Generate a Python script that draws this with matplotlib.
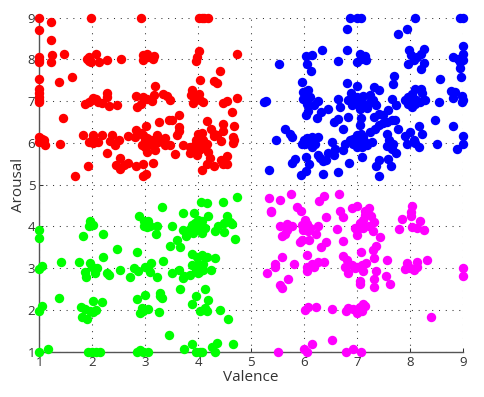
import matplotlib
matplotlib.use("Agg")
import matplotlib.pyplot as plt

# valence / arousal ratings per quadrant
red_x = [1.0, 1.22, 1.0, 1.22, 1.23, 1.21, 1.47, 1, 1, 1, 1, 1.36, 1.62, 1, 1, 1, 1, 1, 1.45, 1, 1.04, 1, 1.08, 1.11, 1.39, 1.67,
         1.98, 2.06, 1.94, 1.89, 1.93, 1.97, 2.12, 2.28, 2.54, 1.86, 1.94, 1.99, 2.02, 2.07, 2.11, 2.18, 2.28, 2.28, 2.31, 2.47,
         1.82, 2.02, 1.93, 2.02, 2.1, 2.18, 2.01, 2.37, 2.33, 2.43, 2.51, 2.27, 1.91, 2.52, 2.45, 2.52, 2.6, 2.68,
         2.82, 2.96, 3.15, 2.96, 3.01, 2.92, 2.95, 3.04, 2.96, 3.06, 3.15, 3.17,
         2.82, 2.85, 2.91, 2.96, 3.03, 3.12, 3.17, 3.19, 3.34, 3.41, 3.47, 3.44, 3.51, 3.63, 3.26, 3.01, 3.63, 3.64, 3.59,
         2.82, 2.68, 2.81, 2.91, 2.96, 3.03, 3.06, 2.93, 3.15, 3.22, 3.24, 3.37, 3.37, 3.47, 3.56, 3.03, 3.19, 3.09,
         3.71, 3.85, 3.94, 3.85, 3.97, 4.04, 3.97, 4.07, 4.16, 4.0, 4.07, 4.17, 4.24, 4.29, 4.35, 4.29, 4.19, 4.22, 4.16, 4.29, 4.07,
         4.46, 4.46, 4.44, 4.68, 4.66, 4.68, 4.65, 4.63, 4.41, 4.44, 4.46, 4.54, 4.55,
         4.02, 4.07, 4.11, 4.19, 4.73, 4.02, 3.98, 3.95, 4.04, 4.29, 4.36, 3.88, 3.86, 4.02, 3.91, 4.04, 4.1, 3.97, 4.46, 4.55, 4.74,
         3.0, 3.1, 3.0, 4.0, 4.1, 3.93, 4.02, 4.12, 3.95]
red_y = [9, 8.9, 8.7, 8.46, 8.1, 7.93, 8.12, 8.06, 7.98, 7.93, 7.53, 7.45, 7.58, 7.3, 7.2, 7.09, 7.04, 6.98, 6.6, 6.15, 6.1, 6.02, 6.06, 5.94, 5.97, 5.21,
         9, 8.14, 8.05, 8.0, 7.97, 7.95, 7.94, 7.99, 8.0, 6.94, 6.98, 7.04, 7.08, 7.05, 6.98, 6.96, 7.2, 7.09, 6.88, 6.9,
         6.2, 6.2, 6.03, 6.0, 6.02, 6.19, 6.13, 6.18, 6.04, 5.94, 6.08, 5.77, 5.45, 5.65, 5.46, 5.38, 5.48, 5.53,
         5.44, 5.5, 5.53, 5.21, 5.26, 9, 8.1, 8.14, 7.98, 8.06, 8.0, 8.08,
         7.13, 6.86, 6.93, 7.1, 7.06, 7.01, 7.14, 7.37, 7.18, 7.12, 7.02, 6.54, 6.54, 6.66, 6.49, 6.4, 6.38, 6.29, 6.2,
         6.3, 6.17, 6.14, 6.25, 6.18, 6.13, 6.02, 5.96, 6.02, 6.18, 6.02, 6.12, 5.94, 5.96, 5.74, 5.78, 5.82, 5.98,
         5.94, 5.9, 5.94, 5.76, 5.72, 5.86, 6.02, 5.98, 5.98, 6.22, 6.25, 6.53, 6.33, 6.22, 6.18, 6.16, 5.78, 5.65, 5.49, 5.45, 5.36,
         6.45, 6.28, 6.04, 6.41, 6.14, 6.06, 6.0, 6.73, 7.72, 5.58, 5.5, 5.68, 5.5,
         9, 9, 9, 9, 8.12, 8.21, 8.06, 7.96, 7.5, 7.49, 7.44, 7.26, 7.14, 7.17, 6.96, 7.02, 6.98, 7.1, 6.96, 7.01, 7.08,
         6.06, 6.08, 5.9, 6.1, 6.06, 5.82, 5.84, 5.9, 6.08]

blue_x = [6.87, 7.01, 7.08, 8.09, 8.94, 9, 6.81, 7.94, 7.78, 9.0, 6.82, 6.34, 6.04, 6.15, 6.05, 6.13, 5.52, 6.65,
          7.05, 7.15, 7.17, 7.0, 7.07, 7.98, 8.02, 8.07, 7.97, 8.14, 8.26, 8.22, 8.26, 8.21,
          8.82, 8.92, 9, 9.0, 8.95, 8.94, 8.96, 7.71, 7.69, 8.57, 5.96, 6.81, 7.01, 5.25, 5.28,
          6.08, 5.99, 6.02, 5.99, 6.05, 6.11, 6.27, 6.19, 6.08, 6.04, 6.25, 6.33, 6.46,
          6.65, 6.68, 6.84, 6.88, 6.96, 6.9, 7.01, 7.06, 7.12, 7.05, 7.2, 7.25, 7.33, 7.41, 7.31, 7.36, 7.25,
          7.66, 7.73, 7.59, 7.5, 7.33, 7.41, 6.64, 6.56, 6.83, 6.73, 7.07, 7.06,
          5.64, 5.74, 5.78, 5.48, 5.96, 6.05, 6.15, 6.27, 6.02, 6.15, 6.21, 6.52, 6.59, 6.46, 6.57, 6.74,
          6.03, 5.83, 5.77, 6.1, 6.03, 5.94, 5.33, 6.26, 6.3, 6.35, 6.41, 6.35, 6.65, 6.85, 7.1,
          6.78, 6.87, 6.93, 7, 7.07, 7.12, 7.15, 7.06, 7, 6.93, 7.19, 7.28, 7.09, 7,
          7.25, 7.34, 7.42, 7.5, 7.56, 7.67, 7.72, 7.77, 7.56, 7.61, 7.69, 7.56, 7.66, 7.73, 7.59, 7.41, 7.36, 7.64, 7.41,
          7.91, 8, 7.94, 8.07, 8.09, 8.17, 8.24, 8.18, 8.48, 8.51, 8.82, 8.9, 9, 9,
          7.91, 7.97, 8.04, 8.1, 8.22, 8.24, 8.29, 8.19, 8.1, 8.04, 7.97, 8.07, 8.56, 8.77, 8.85, 8.82, 8.98, 9, 8.98,
          6.95, 7.0, 7.06, 7.1, 6.95, 7.04, 7.0, 7.1, 8.0, 8.12, 8.06, 6.05, 6.1, 6.0]
blue_y = [9, 9, 9, 9, 9, 9, 8.72, 8.74, 8.62, 8.32, 8.22, 8.22, 8.08, 8.1, 7.9, 7.72, 7.9, 7.97,
          8.14, 8.08, 7.98, 7.93, 8.02, 8.22, 8.1, 7.98, 7.9, 8.06, 8.26, 8.14, 7.92, 7.77,
          8.06, 8.02, 8.14, 7.98, 7.94, 7.8, 7.58, 7.6, 7.42, 7.54, 7.46, 7.44, 7.37, 6.98, 7.0,
          7.28, 7.22, 7.1, 7.06, 6.94, 7.1, 7.0, 6.92, 6.76, 6.66, 6.6, 6.73, 6.81,
          7.06, 6.86, 7.02, 7.2, 7.02, 6.9, 7.1, 7.02, 7.12, 6.82, 6.84, 7.14, 7.33, 7.26, 7.02, 6.92, 6.98,
          7.05, 6.9, 6.8, 6.68, 6.62, 6.7, 6.58, 6.49, 6.62, 6.34, 6.6, 6.42,
          6.34, 6.21, 6.14, 6.06, 5.98, 6.13, 6.14, 6.14, 5.98, 5.9, 5.98, 6.02, 5.85, 5.77, 5.7, 5.82,
          5.66, 5.62, 5.52, 5.5, 5.34, 5.23, 5.36, 5.7, 5.65, 5.57, 5.6, 5.26, 5.3, 5.53, 5.66,
          5.97, 6.06, 6.1, 6.18, 6.22, 6.14, 6.02, 5.98, 6.02, 5.97, 5.94, 6.02, 5.9, 5.9,
          6.26, 6.34, 6.42, 6.48, 6.5, 6.54, 6.56, 6.34, 6.21, 6.06, 5.98, 5.92, 5.86, 5.76, 5.62, 5.58, 5.45, 5.45, 5.2,
          6.16, 6.26, 5.98, 6.06, 6.0, 5.9, 6.21, 6.41, 6.54, 5.97, 6.4, 5.85, 6.16, 5.98,
          7.04, 7.1, 7.18, 7.3, 7.3, 7.2, 7.04, 6.98, 6.94, 6.86, 6.94, 7.06, 6.98, 7.24, 7.21, 7.08, 7.13, 7.02, 6.98,
          7.1, 6.96, 7.04, 6.95, 6.05, 6.1, 6.12, 6.05, 7.0, 7.02, 6.98, 6.05, 6.02, 6.08]

green_x = [1, 1.16, 1, 1, 1.04, 1, 1.04, 1, 1.37, 1.41, 1.75, 1.96, 1.93, 2.01, 1.83, 2.2,
           2.2, 2.47, 1.96, 1.86, 1.88, 2.08, 2.04, 1.99, 2.28, 2.32, 2.52, 2.71, 2.79, 2.87, 2.85,
           2.02, 2.18, 1.78, 1.86, 1.8, 1.89, 1.96, 2.07, 2.02, 1.91, 1.99, 2.06, 2.15,
           2.88, 2.98, 3.06, 2.98, 3.03, 3.23, 3.2, 3.32, 3.09, 3, 3.1, 3.06, 3.09, 3.23, 3.33, 3.5, 3.64,
           2.85, 3, 3.28, 3.28, 3.32, 3.66, 3.25, 2.93, 3.06, 2.9, 2.96, 3.45, 2.85, 2.9, 2.96, 3.06,
           3.5, 3.72, 3.93, 4.05, 4.16, 4.46, 4.73, 4.18, 4.54, 4.6, 4.63, 4.48, 4.38, 4.31, 4.48, 4.7,
           3.88, 3.94, 4, 4.07, 4.04, 4.13, 4.07, 3.91, 3.77, 3.72, 3.85, 3.97, 3.59, 3.47, 3.66,
           3.88, 3.97, 4.07, 4.16, 4.32, 3.88, 3.97, 4.07, 4, 4.1, 4.24, 3.85, 3.72, 3.74,
           4.12, 3.96, 4.18, 3.88, 4.04, 4.12, 4.17, 4.41, 4.56, 3.73, 3.88, 3.96, 4.04, 4.07, 4.26, 4.35, 4.32, 4.66,
           4.0, 4.05, 3.96, 4.02, 4.1, 3.94]
green_y = [1, 1.06, 3.92, 3.72, 3.06, 2.98, 2.1, 1.97, 2.28, 3.14, 3.14, 4.12, 4.01, 4.04, 3.78, 3.82,
           3.28, 3.45, 3.12, 2.9, 2.78, 3, 2.88, 3.02, 2.88, 2.84, 2.96, 2.78, 3, 2.94, 3.38,
           2.22, 2.18, 2.06, 2.02, 1.84, 1.78, 1.98, 2, 1.94, 1, 1, 1, 1,
           4.24, 4.12, 4.14, 4.0, 3.98, 4.01, 3.82, 4.46, 4.02, 3.04, 3.12, 3, 2.9, 2.78, 3.18, 2.88, 2.96,
           2.26, 2.36, 2.4, 2.34, 2.28, 2.5, 1.96, 2.04, 2.02, 1.92, 1.98, 1.41, 1, 1.04, 1, 1,
           4.01, 4.32, 4.33, 4.58, 4.56, 4.58, 4.7, 4.24, 4.26, 4.1, 4.06, 4.08, 4.02, 3.88, 3.86, 3.7,
           4.04, 4.04, 4.16, 4.14, 4.02, 3.96, 3.84, 3.84, 3.76, 3.92, 3.94, 3.96, 3.68, 3.54, 3.5,
           3.34, 3.28, 3.32, 3.26, 3.24, 3.08, 3.04, 3, 2.88, 2.96, 2.96, 2.84, 2.76, 2.82,
           2.5, 2.34, 2.24, 2.14, 1.98, 2.04, 1.98, 2, 1.78, 1.06, 1.18, 1, 1, 1, 1.12, 1.22, 1, 1.18,
           3.1, 3.06, 2.96, 2.92, 3.1, 4.08]

magenta_x = [5.33, 5.55, 5.76, 5.38, 5.38, 5.86, 5.95, 6.28, 6.37, 6.67, 6.42,
             5.54, 5.67, 5.78, 5.59, 5.65, 5.67, 6.02, 5.96, 6.05, 5.99, 6.11, 6.27, 6.23, 6.08,
             5.96, 5.93, 6.1, 6.32, 6.42, 6.62, 6.68, 6.74, 6.73, 6.91, 7,
             7.22, 7.15, 7.15, 7.27, 7.33, 7.12, 7.06, 6.96, 7, 7.12, 7.22, 7.3, 7, 7.07,
             7.44, 7.37, 7.31, 7.08, 7.33, 8.04, 8.03, 8.03, 7.86, 8.19, 8.04, 8.13, 8.27, 7.79,
             5.58, 5.45, 5.45, 5.81, 5.31, 5.69, 5.55, 5.59, 6.06, 6.05, 6.05, 6.15, 6.19, 6.27, 6.37,
             6.73, 6.81, 6.78, 6.84, 6.9, 7, 7.09, 7.17, 7.12, 6.96,
             7.36, 7.32, 7.32, 7.06, 7.06, 7.56, 7.55, 7.63, 7.94, 7.91, 8, 8.07, 8.13, 8.13, 8.32, 9, 9,
             6.01, 6.08, 6.22, 6.53, 6.79, 6.84, 6.93, 7, 7.06, 7.12, 7.15, 7.09, 7.03, 8.41,
             5.5, 6, 6.05, 6.15, 6.53, 6.79, 6.93, 7.08]
magenta_y = [4.68, 4.64, 4.78, 4.38, 4.34, 4.46, 4.38, 4.6, 4.72, 4.78, 4.22,
             4.01, 4.06, 4, 3.78, 3.82, 3.92, 4.16, 4.04, 4.06, 3.92, 3.96, 4.02, 3.82, 3.88,
             3.68, 3.62, 3.68, 3.5, 3.62, 3.94, 4.38, 4.22, 3.66, 4.44, 4.5,
             4.44, 4.36, 4.28, 4.26, 4.1, 4.16, 4.08, 3.96, 3.8, 3.96, 4.02, 3.88, 3.92, 4,
             3.74, 3.54, 3.44, 3.38, 3.24, 4.5, 4.34, 4.26, 4.18, 4.14, 3.98, 3.96, 3.92, 3.95,
             3.26, 3.1, 3.02, 3.1, 2.88, 2.73, 2.6, 2.52, 3.32, 3.04, 2.94, 3.1, 3.02, 3.14, 3.14,
             3.3, 3.2, 3.02, 2.88, 3.08, 3.04, 3.08, 3.12, 2.94, 3,
             2.94, 2.74, 2.55, 2.7, 2.63, 3.2, 2.82, 2.61, 3.12, 2.98, 3, 2.96, 3.16, 3.02, 3.2, 3, 2.82,
             2, 2.06, 2.08, 2.02, 1.98, 2.04, 2.02, 1.92, 2.08, 2.14, 2.1, 1.98, 2.02, 1.82,
             1, 1.06, 1, 1.18, 1.29, 1, 1.06, 1]

ticks = [1, 2, 3, 4, 5, 6, 7, 8, 9]

plt.rcParams["font.family"] = ["Open Sans", "DejaVu Sans"]

fig = plt.figure(figsize=(4.85, 3.97), dpi=100)
ax = fig.add_axes([39.5 / 485, 1 - 351.7 / 397, 423.2 / 485, 334 / 397])

# grid sits under the dots
ax.grid(True, color="#333333", linewidth=0.75, linestyle=(0, (1, 5.5)))
ax.set_axisbelow(True)

for xs, ys, col in [(red_x, red_y, "#ff0000"), (blue_x, blue_y, "#0000ff"),
                    (green_x, green_y, "#00ff00"), (magenta_x, magenta_y, "#ff00ff")]:
    ax.scatter(xs, ys, s=46, color=col, linewidths=0, clip_on=False, zorder=3)

ax.set_xlim(1, 9)
ax.set_ylim(1, 9)
ax.set_xticks(ticks)
ax.set_yticks(ticks)
ax.tick_params(direction="in", length=3, width=0.75, color="#333333", labelsize=9.5, labelcolor="#333333", pad=3)
ax.spines["top"].set_visible(False)
ax.spines["right"].set_visible(False)
ax.spines["left"].set_color("#555555")
ax.spines["bottom"].set_color("#555555")
ax.spines["left"].set_linewidth(1.0)
ax.spines["bottom"].set_linewidth(1.0)

ax.set_xlabel("Valence", fontsize=11, color="#333333", labelpad=1)
ax.set_ylabel("Arousal", fontsize=11, color="#333333", labelpad=1)

plt.savefig("out.png", dpi=100)
